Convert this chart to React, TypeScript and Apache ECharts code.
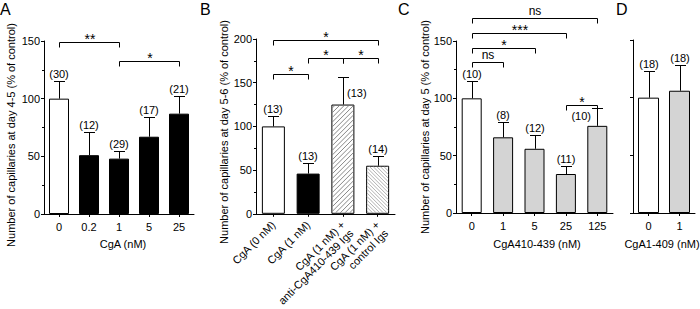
import React, { useEffect, useRef } from 'react';
import * as echarts from 'echarts';

// ---------- Data ----------
const aCategories = ['0', '0.2', '1', '5', '25'];
const aMeans = [100, 51, 48, 67, 87];
const aErrors = [15, 20, 7, 17, 15];
const aCounts = [30, 12, 29, 17, 21];
const aSigFrom = [0, 2];
const aSigTo = [2, 4];
const aSigHeight = [149, 133];
const aSigText = ['**', '*'];

const bCategories = [
  'CgA (0 nM)',
  'CgA (1 nM)',
  'CgA (1 nM) +\nanti-CgA410-439 Igs',
  'CgA (1 nM) +\ncontrol Igs',
];
const bMeans = [100, 46, 125, 55];
const bErrors = [12, 12, 31, 11];
const bCounts = [13, 13, 13, 14];
const bSigFrom = [0, 1, 2, 0];
const bSigTo = [3, 2, 3, 1];
const bSigHeight = [199, 178, 178, 160];
const bSigText = ['*', '*', '*', '*'];

const cCategories = ['0', '1', '5', '25', '125'];
const cMeans = [100, 66, 56, 34, 76];
const cErrors = [15, 13, 12, 7, 16];
const cCounts = [10, 8, 12, 11, 10];
const cSigFrom = [0, 0, 0, 0, 3];
const cSigTo = [4, 3, 2, 1, 4];
const cSigHeight = [170, 157, 144, 132, 94];
const cSigText = ['ns', '***', '*', 'ns', '*'];

const dCategories = ['0', '1'];
const dMeans = [100, 106];
const dErrors = [23, 22];
const dCounts = [18, 18];

const aYTicks = [0, 50, 100, 150];
const bYTicks = [0, 50, 100, 150, 200];

// ---------- Styles ----------
const FONT = '"Liberation Sans", Arial, Helvetica, sans-serif';
const INK = '#000';
const GRAY = '#d4d4d4';

// hatch styles for panel B bars (null = plain fill)
type Hatch = { dir: 1 | -1; gap: number; color: string } | null;
const bHatches: Hatch[] = [
  null,
  null,
  { dir: 1, gap: 4.7, color: '#7a7a7a' },
  { dir: -1, gap: 3.6, color: '#a8a8a8' },
];
const B_BAR_W = 23;

type Place = 'top' | 'right' | 'left';

function yAxis(gridIndex: number, max: number, showLabels = true, minor = true) {
  return {
    type: 'value',
    gridIndex,
    min: 0,
    max,
    interval: 50,
    axisLine: { show: true, lineStyle: { color: INK, width: 1 } },
    axisTick: { show: true, length: 3, lineStyle: { color: INK, width: 1 } },
    minorTick: { show: minor, splitNumber: 2, length: 2, lineStyle: { color: INK, width: 1 } },
    splitLine: { show: false },
    minorSplitLine: { show: false },
    axisLabel: { show: showLabels, fontSize: 11, color: INK, margin: 4, fontFamily: FONT },
  };
}

function xAxis(gridIndex: number, data: any[], rotate = 0) {
  return {
    type: 'category',
    gridIndex,
    data,
    axisLine: { show: true, lineStyle: { color: INK, width: 1 } },
    axisTick: { show: true, alignWithLabel: true, length: 3, lineStyle: { color: INK, width: 1 } },
    axisLabel: {
      interval: 0,
      fontSize: 11,
      color: INK,
      margin: rotate ? 9 : 7,
      rotate,
      fontFamily: FONT,
      lineHeight: 12,
    },
  };
}

// multi-line rotated labels: first line sits on the tick, the rest hang below it
function rotatedLabels(cats: string[]) {
  return cats.map((c) => {
    const lines = c.split('\n');
    if (lines.length === 1) return c;
    return { value: c, textStyle: { verticalAlign: 'top', padding: [-6, 0, 0, 0] } };
  });
}

function barSeries(idx: number, means: number[], fills: string[], width: number) {
  return {
    type: 'bar',
    xAxisIndex: idx,
    yAxisIndex: idx,
    barWidth: width,
    z: 2,
    data: means.map((v, i) => ({
      value: v,
      itemStyle: { color: fills[i], borderColor: INK, borderWidth: 1 },
    })),
  };
}

function hatchSeries(idx: number, means: number[], hatches: Hatch[], width: number) {
  return {
    type: 'custom',
    xAxisIndex: idx,
    yAxisIndex: idx,
    clip: false,
    z: 2.5,
    silent: true,
    data: means.map((m, i) => [i, m]),
    renderItem: (params: any, api: any) => {
      const i = params.dataIndex;
      const h = hatches[i];
      if (!h) return { type: 'group', children: [] };
      const top = api.coord([i, means[i]]);
      const bot = api.coord([i, 0]);
      const x0 = top[0] - width / 2 + 1;
      const x1 = top[0] + width / 2 - 1;
      const yT = top[1] + 1;
      const yB = bot[1] - 1;
      const children: any[] = [];
      const style = { stroke: h.color, lineWidth: 0.9, fill: 'none' };
      if (h.dir === 1) {
        // "/" lines: x + y = c
        for (let c = x0 + yT + h.gap / 2; c < x1 + yB; c += h.gap) {
          const xa = Math.max(x0, c - yB);
          const xb = Math.min(x1, c - yT);
          if (xb <= xa) continue;
          children.push({ type: 'line', shape: { x1: xa, y1: c - xa, x2: xb, y2: c - xb }, style });
        }
      } else {
        // "\" lines: x - y = c
        for (let c = x0 - yB + h.gap / 2; c < x1 - yT; c += h.gap) {
          const xa = Math.max(x0, c + yT);
          const xb = Math.min(x1, c + yB);
          if (xb <= xa) continue;
          children.push({ type: 'line', shape: { x1: xa, y1: xa - c, x2: xb, y2: xb - c }, style });
        }
      }
      return { type: 'group', children };
    },
  };
}

function txtStyle(text: string, size: number, align: string) {
  return {
    text,
    align,
    verticalAlign: 'middle',
    fontSize: size,
    fontFamily: FONT,
    fill: INK,
  };
}

function errorSeries(idx: number, means: number[], errors: number[], counts: number[], places?: Place[]) {
  return {
    type: 'custom',
    xAxisIndex: idx,
    yAxisIndex: idx,
    clip: false,
    z: 3,
    silent: true,
    itemStyle: { color: INK },
    data: means.map((m, i) => [i, m + errors[i]]),
    renderItem: (params: any, api: any) => {
      const i = params.dataIndex;
      const base = api.coord([i, means[i]]);
      const top = api.coord([i, means[i] + errors[i]]);
      const mid = api.coord([i, means[i] + errors[i] / 2]);
      const xr = Math.round(base[0]);
      const x = xr + 0.5;
      const yt = Math.round(top[1]) + 0.5;
      const place: Place = places ? places[i] : 'top';
      const lineStyle = { stroke: INK, lineWidth: 1, fill: 'none' };
      let tx = xr;
      let ty = Math.round(top[1]) - 7;
      let align = 'center';
      if (place === 'right') {
        tx = xr + 4;
        ty = Math.round(mid[1]) + 2;
        align = 'left';
      } else if (place === 'left') {
        tx = xr - 6;
        ty = Math.round(mid[1]) - 1;
        align = 'right';
      }
      return {
        type: 'group',
        children: [
          { type: 'line', shape: { x1: x, y1: base[1], x2: x, y2: yt }, style: lineStyle },
          { type: 'line', shape: { x1: x - 5.5, y1: yt, x2: x + 5.5, y2: yt }, style: lineStyle },
          { type: 'text', x: tx, y: ty, style: txtStyle('(' + counts[i] + ')', 11, align) },
        ],
      };
    },
  };
}

function sigSeries(idx: number, from: number[], to: number[], heights: number[], texts: string[]) {
  return {
    type: 'custom',
    xAxisIndex: idx,
    yAxisIndex: idx,
    clip: false,
    z: 3,
    silent: true,
    itemStyle: { color: INK },
    data: from.map((f, i) => [f, heights[i]]),
    renderItem: (params: any, api: any) => {
      const i = params.dataIndex;
      const p0 = api.coord([from[i], heights[i]]);
      const p1 = api.coord([to[i], heights[i]]);
      const yr = Math.round(p0[1]);
      const y = yr + 0.5;
      const x0 = Math.round(p0[0]) + 0.5;
      const x1 = Math.round(p1[0]) + 0.5;
      const star = texts[i].indexOf('*') >= 0;
      return {
        type: 'group',
        children: [
          {
            type: 'polyline',
            shape: { points: [[x0, y + 5], [x0, y], [x1, y], [x1, y + 5]] },
            style: { stroke: INK, fill: 'none', lineWidth: 1 },
          },
          {
            type: 'text',
            x: Math.round((x0 + x1) / 2),
            y: star ? yr - 3 : yr - 7,
            style: txtStyle(texts[i], star ? 14 : 12, 'center'),
          },
        ],
      };
    },
  };
}

function textEl(text: string, x: number, y: number, size: number, rotation = 0, align = 'center', vAlign = 'middle') {
  return {
    type: 'text',
    x,
    y,
    rotation,
    style: { text, fontSize: size, fontFamily: FONT, fill: INK, align, verticalAlign: vAlign },
  };
}

export default function App() {
  const ref = useRef<HTMLDivElement>(null);

  useEffect(() => {
    if (!ref.current) return;
    const chart = echarts.init(ref.current, undefined, { renderer: 'svg' });

    const option: any = {
      animation: false,
      backgroundColor: '#fff',
      color: [INK],
      textStyle: { fontFamily: FONT },
      grid: [
        { left: 44, top: 41, width: 150, height: 173 },
        { left: 256, top: 39, width: 139, height: 175 },
        { left: 456, top: 41, width: 157, height: 172 },
        { left: 633, top: 40, width: 62, height: 173 },
      ],
      xAxis: [
        xAxis(0, aCategories),
        xAxis(1, rotatedLabels(bCategories), 45),
        xAxis(2, cCategories),
        xAxis(3, dCategories),
      ],
      yAxis: [
        yAxis(0, aYTicks[aYTicks.length - 1]),
        yAxis(1, bYTicks[bYTicks.length - 1]),
        yAxis(2, aYTicks[aYTicks.length - 1]),
        yAxis(3, aYTicks[aYTicks.length - 1], false, false),
      ],
      series: [
        barSeries(0, aMeans, ['#fff', INK, INK, INK, INK], 20),
        errorSeries(0, aMeans, aErrors, aCounts),
        sigSeries(0, aSigFrom, aSigTo, aSigHeight, aSigText),

        barSeries(1, bMeans, ['#fff', INK, '#fff', '#fff'], B_BAR_W),
        hatchSeries(1, bMeans, bHatches, B_BAR_W),
        errorSeries(1, bMeans, bErrors, bCounts, ['top', 'top', 'right', 'top']),
        sigSeries(1, bSigFrom, bSigTo, bSigHeight, bSigText),

        barSeries(2, cMeans, ['#fff', GRAY, GRAY, GRAY, GRAY], 20),
        errorSeries(2, cMeans, cErrors, cCounts, ['top', 'top', 'top', 'top', 'left']),
        sigSeries(2, cSigFrom, cSigTo, cSigHeight, cSigText),

        barSeries(3, dMeans, ['#fff', GRAY], 21),
        errorSeries(3, dMeans, dErrors, dCounts),
      ],
      graphic: [
        textEl('A', 0, 1, 16, 0, 'left', 'top'),
        textEl('B', 200, 1, 16, 0, 'left', 'top'),
        textEl('C', 398, 1, 16, 0, 'left', 'top'),
        textEl('D', 616, 1, 16, 0, 'left', 'top'),
        textEl('Number of capillaries at day 4-5 (% of control)', 11, 135, 11, Math.PI / 2),
        textEl('Number of capillaries at day 5-6 (% of control)', 224, 132, 11, Math.PI / 2),
        textEl('Number of capillaries at day 5 (% of control)', 425, 127, 11, Math.PI / 2),
        textEl('CgA (nM)', 123, 244, 11),
        textEl('CgA410-439 (nM)', 537, 244, 11),
        textEl('CgA1-409 (nM)', 662, 244, 11),
      ],
    };

    chart.setOption(option);
    return () => chart.dispose();
  }, []);

  return (
    <div
      ref={ref}
      style={{ position: 'absolute', left: 0, top: 0, width: 700, height: 309, background: '#fff' }}
    />
  );
}
